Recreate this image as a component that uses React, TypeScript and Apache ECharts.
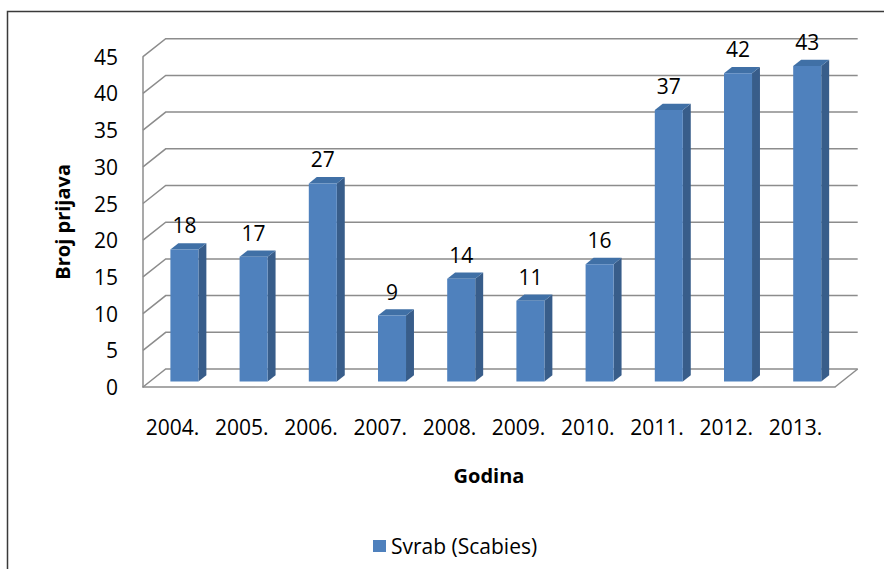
import React, { useEffect, useRef } from "react";
import * as echarts from "echarts";

const categories = ["2004.", "2005.", "2006.", "2007.", "2008.", "2009.", "2010.", "2011.", "2012.", "2013."];
const values = [18, 17, 27, 9, 14, 11, 16, 37, 42, 43];
const tickValues = [0, 5, 10, 15, 20, 25, 30, 35, 40, 45];
const seriesName = "Svrab (Scabies)";

const FONT = "Open Sans";
const DX = 22.7; // depth offset x (front -> back wall)
const DY = -18; // depth offset y
const D0 = 0.3; // bar front depth fraction
const D1 = 0.65; // bar back depth fraction
const GRID_COLOR = "#8c8c8c";

export default function App() {
  const ref = useRef<HTMLDivElement>(null);
  useEffect(() => {
    document.body.style.margin = "0";
    const chart = echarts.init(ref.current!, null, { renderer: "svg" });
    const option: any = {
      animation: false,
      backgroundColor: "#ffffff",
      textStyle: { fontFamily: FONT },
      grid: { left: 143, top: 56.7, width: 692, height: 330.3, containLabel: false },
      legend: {
        data: [seriesName],
        left: 373,
        top: 534,
        padding: 0,
        icon: "rect",
        itemWidth: 13,
        itemHeight: 12,
        textStyle: { fontFamily: FONT, fontSize: 21, color: "#000", lineHeight: 24 },
      },
      xAxis: {
        type: "category",
        data: categories,
        axisLine: { show: true, lineStyle: { color: GRID_COLOR, width: 1.5 } },
        axisTick: { show: false },
        axisLabel: {
          interval: 0,
          hideOverlap: false,
          fontFamily: FONT,
          fontSize: 21,
          color: "#000",
          margin: 29,
          lineHeight: 21,
          padding: [0, 10, 0, 0],
        },
        name: "Godina",
        nameLocation: "middle",
        nameGap: 78,
        nameTextStyle: { fontFamily: FONT, fontSize: 20, fontWeight: "bold", color: "#000" },
      },
      yAxis: {
        type: "value",
        min: 0,
        max: 45,
        interval: 5,
        splitLine: { show: false },
        axisLine: { show: true, lineStyle: { color: GRID_COLOR, width: 1.5 } },
        axisTick: { show: false },
        axisLabel: { fontFamily: FONT, fontSize: 21, color: "#000", margin: 25 },
        name: "Broj prijava",
        nameLocation: "middle",
        nameGap: 71,
        nameTextStyle: { fontFamily: FONT, fontSize: 20, fontWeight: "bold", color: "#000" },
      },
      graphic: [
        {
          type: "rect",
          shape: { x: 7.5, y: 11.5, width: 1000, height: 1000 },
          style: { fill: "none", stroke: "#3a3a3a", lineWidth: 1.5 },
          silent: true,
        },
      ],
      series: [
        {
          type: "custom",
          name: "walls",
          z: 1,
          silent: true,
          data: tickValues.map((v) => [0, v]),
          encode: { x: 0, y: 1 },
          renderItem: (params: any, api: any) => {
            const cs = params.coordSys;
            const v = api.value(1);
            const y = api.coord([0, v])[1];
            const x0 = cs.x;
            const x1 = cs.x + cs.width;
            const children: any[] = [
              {
                type: "polyline",
                shape: {
                  points: [
                    [x0, y],
                    [x0 + DX, y + DY],
                    [x1 + DX, y + DY],
                  ],
                },
                style: { stroke: GRID_COLOR, lineWidth: 1.5, fill: "none" },
              },
            ];
            if (v === 0) {
              children.push({
                type: "line",
                shape: { x1: x1, y1: y, x2: x1 + DX, y2: y + DY },
                style: { stroke: GRID_COLOR, lineWidth: 1.5 },
              });
            }
            return { type: "group", children };
          },
        },
        {
          type: "custom",
          name: seriesName,
          z: 2,
          itemStyle: { color: "#4f81bd" },
          data: values.map((v, i) => [i, v]),
          encode: { x: 0, y: 1 },
          renderItem: (params: any, api: any) => {
            const i = api.value(0);
            const v = api.value(1);
            const top = api.coord([i, v]);
            const base = api.coord([i, 0]);
            const band = api.size([1, 0])[0];
            const w = band * 0.405;
            const cx = top[0] + D0 * DX;
            const x0 = cx - w / 2;
            const x1 = cx + w / 2;
            const yTop = top[1] + D0 * DY;
            const yBot = base[1] + D0 * DY;
            const ddx = (D1 - D0) * DX;
            const ddy = (D1 - D0) * DY;
            return {
              type: "group",
              children: [
                {
                  type: "polygon",
                  shape: {
                    points: [
                      [x1, yTop],
                      [x1 + ddx, yTop + ddy],
                      [x1 + ddx, yBot + ddy],
                      [x1, yBot],
                    ],
                  },
                  style: { fill: "#385d8a" },
                },
                {
                  type: "polygon",
                  shape: {
                    points: [
                      [x0, yTop],
                      [x0 + ddx, yTop + ddy],
                      [x1 + ddx, yTop + ddy],
                      [x1, yTop],
                    ],
                  },
                  style: { fill: "#4070a6" },
                },
                {
                  type: "rect",
                  shape: { x: x0, y: yTop, width: w, height: yBot - yTop },
                  style: { fill: "#4f81bd" },
                },
                {
                  type: "text",
                  style: {
                    text: String(v),
                    x: cx,
                    y: yTop - 24,
                    align: "center",
                    verticalAlign: "middle",
                    fontFamily: FONT,
                    fontSize: 21,
                    fill: "#000",
                  },
                },
              ],
            };
          },
        },
      ],
    };
    chart.setOption(option);
    return () => chart.dispose();
  }, []);
  return <div ref={ref} style={{ width: 884, height: 569 }} />;
}
